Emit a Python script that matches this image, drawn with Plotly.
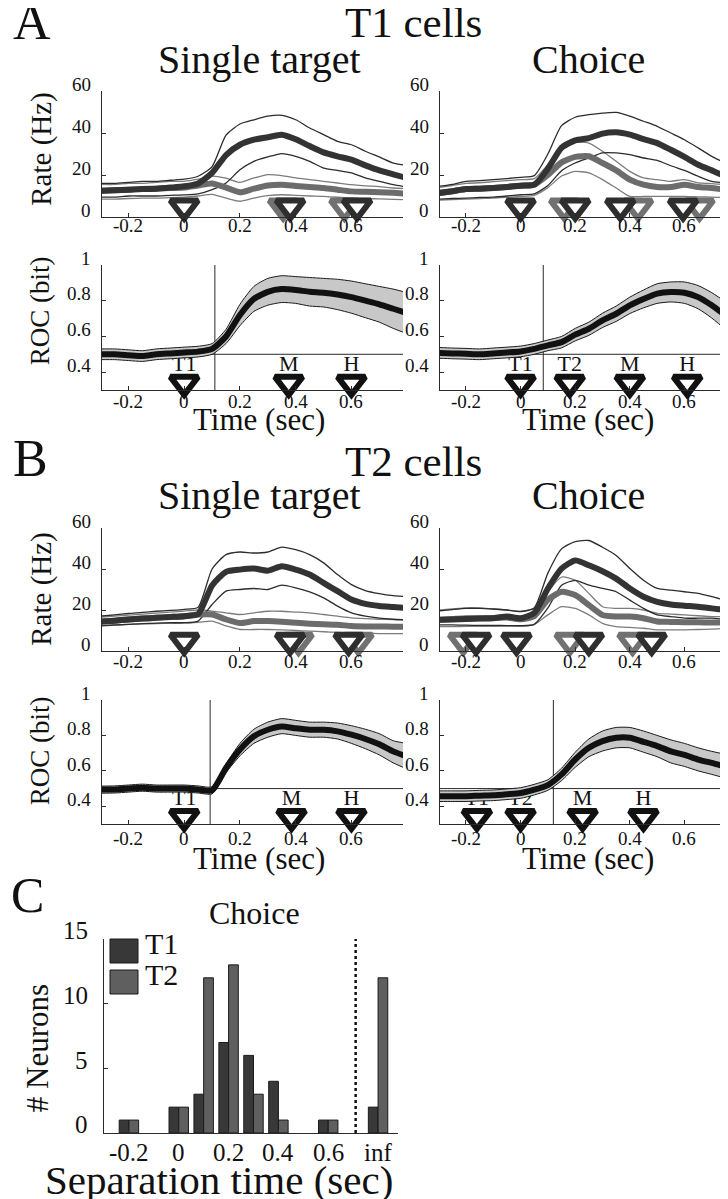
import plotly.graph_objects as go

W, H = 728, 1199
FONT = "Liberation Serif, Times New Roman, serif"
TXT = "#111111"
AX = "#2a2a2a"

# ---------------- data ----------------
t = [-0.30, -0.25, -0.20, -0.15, -0.10, -0.05, 0.00, 0.05, 0.10, 0.15, 0.20, 0.25,
     0.30, 0.35, 0.40, 0.45, 0.50, 0.55, 0.60, 0.65, 0.70, 0.75, 0.80]

# A, T1 cells, single target (rate, Hz)
A_st_dark = [12.5, 12.7, 13.0, 13.3, 13.5, 14.0, 14.6, 16.0, 21.0, 29.5, 34.4, 36.8, 38.0, 39.2, 37.0, 33.8, 30.8, 28.9, 27.3, 24.6, 22.2, 20.3, 18.5]
A_st_dark_hi = [16.0, 16.0, 16.5, 17.0, 17.0, 17.5, 18.0, 19.4, 24.0, 39.0, 44.3, 46.3, 48.0, 48.4, 46.3, 42.4, 39.2, 36.0, 34.4, 31.3, 28.6, 25.7, 24.5]
A_st_dark_lo = [9.5, 9.5, 10.0, 10.0, 10.0, 10.3, 10.5, 11.0, 13.0, 16.2, 22.5, 26.5, 28.6, 30.2, 28.9, 26.5, 23.3, 22.2, 21.0, 18.6, 17.0, 15.4, 14.3]
A_st_gray = [12.5, 12.7, 13.0, 13.3, 13.5, 13.8, 14.0, 15.0, 16.0, 14.0, 11.8, 13.5, 15.0, 15.4, 14.8, 14.3, 13.8, 13.0, 12.2, 12.0, 11.8, 11.5, 11.0]
A_st_gray_hi = [15.5, 15.5, 16.0, 16.0, 16.5, 17.0, 17.0, 18.0, 19.5, 18.5, 16.5, 18.6, 20.2, 19.7, 18.6, 17.8, 17.0, 16.2, 15.4, 14.8, 14.5, 13.8, 13.5]
A_st_gray_lo = [8.5, 8.5, 8.8, 9.0, 9.0, 9.2, 9.5, 10.0, 10.8, 9.0, 7.5, 9.0, 10.2, 10.6, 10.3, 10.0, 9.8, 9.4, 9.0, 8.8, 8.6, 8.4, 8.2]

# A, T1 cells, choice
A_ch_dark = [11.4, 12.3, 13.3, 13.5, 13.8, 14.3, 14.9, 15.4, 23.0, 33.0, 36.5, 37.6, 39.7, 40.3, 39.2, 37.1, 35.2, 32.0, 28.6, 24.9, 22.2, 19.4, 17.5]
A_ch_dark_hi = [14.6, 15.5, 17.0, 17.3, 17.8, 18.3, 18.9, 19.7, 30.0, 43.5, 47.5, 48.7, 49.5, 49.8, 48.0, 45.6, 43.2, 40.0, 36.8, 32.9, 28.9, 25.7, 23.5]
A_ch_dark_lo = [8.5, 8.8, 9.0, 9.3, 9.5, 10.0, 10.6, 11.0, 15.0, 22.0, 25.7, 28.1, 30.5, 30.5, 29.7, 28.1, 27.0, 24.4, 22.2, 19.4, 17.0, 16.2, 15.0]
A_ch_gray = [11.4, 12.3, 13.3, 13.5, 13.8, 14.3, 14.9, 15.4, 20.0, 26.0, 28.6, 28.9, 25.7, 22.2, 17.8, 15.4, 14.3, 14.3, 15.4, 14.3, 13.8, 13.0, 12.5]
A_ch_gray_hi = [14.0, 15.0, 16.0, 16.3, 16.8, 17.3, 17.8, 18.3, 25.0, 33.0, 35.6, 35.2, 31.3, 26.5, 21.7, 18.6, 17.8, 17.0, 17.8, 16.2, 15.9, 15.4, 15.2]
A_ch_gray_lo = [8.0, 8.3, 8.5, 8.8, 9.0, 9.4, 9.8, 10.3, 14.0, 19.5, 21.7, 21.0, 17.8, 13.8, 9.8, 9.8, 9.8, 9.8, 9.8, 9.6, 9.5, 9.2, 9.0]

# B, T2 cells, single target
B_st_dark = [14.3, 14.8, 15.4, 15.8, 16.2, 16.6, 17.0, 18.0, 32.0, 38.6, 39.7, 40.2, 39.2, 41.3, 39.7, 37.3, 33.2, 29.2, 25.1, 23.0, 22.0, 21.5, 21.0]
B_st_dark_hi = [17.0, 17.6, 18.3, 18.8, 19.4, 19.8, 20.3, 21.4, 40.0, 47.0, 48.3, 47.8, 48.3, 50.7, 49.4, 47.0, 43.0, 37.3, 32.4, 29.5, 28.0, 27.0, 26.5]
B_st_dark_lo = [12.2, 12.6, 13.0, 13.4, 13.6, 13.8, 13.8, 14.6, 22.7, 29.2, 30.0, 30.5, 30.0, 32.1, 30.8, 28.8, 25.9, 21.9, 18.6, 17.0, 16.0, 15.5, 15.3]
B_st_gray = [14.3, 14.8, 15.4, 15.8, 16.2, 16.6, 17.0, 17.8, 17.8, 15.4, 13.6, 14.6, 14.6, 14.3, 13.8, 13.3, 13.0, 12.8, 12.2, 12.0, 12.0, 11.8, 11.8]
B_st_gray_hi = [16.5, 17.0, 17.5, 18.0, 18.5, 19.0, 19.5, 20.0, 19.5, 18.6, 17.8, 18.6, 19.4, 19.4, 19.0, 18.6, 17.8, 17.0, 16.2, 15.8, 15.5, 15.3, 15.0]
B_st_gray_lo = [12.5, 12.8, 13.0, 13.2, 13.4, 13.5, 13.6, 14.0, 14.6, 12.2, 10.5, 10.5, 10.5, 10.3, 10.0, 9.7, 9.4, 9.1, 8.9, 8.7, 8.5, 8.5, 8.4]

# B, T2 cells, choice
B_ch_dark = [15.2, 15.4, 15.6, 15.8, 16.0, 16.8, 16.0, 18.5, 30.5, 40.2, 44.2, 41.8, 38.9, 35.3, 30.5, 26.5, 24.0, 22.7, 22.1, 21.6, 20.8, 20.0, 19.3]
B_ch_dark_hi = [19.5, 20.2, 20.8, 20.8, 20.5, 20.0, 19.2, 21.0, 38.0, 49.8, 53.4, 53.9, 50.6, 46.6, 40.2, 34.5, 30.5, 29.7, 28.9, 28.1, 26.5, 24.8, 24.5]
B_ch_dark_lo = [12.7, 12.7, 12.6, 12.5, 12.5, 12.4, 12.4, 13.0, 21.0, 32.1, 34.5, 32.1, 30.5, 28.9, 24.8, 20.8, 17.6, 16.8, 16.0, 16.0, 16.0, 15.5, 15.2]
B_ch_gray = [15.2, 15.6, 16.0, 16.0, 16.1, 16.3, 15.5, 17.0, 25.0, 28.9, 27.3, 22.4, 17.6, 16.8, 16.8, 16.0, 14.4, 14.2, 14.0, 14.0, 13.9, 13.9, 13.9]
B_ch_gray_hi = [20.0, 20.5, 21.0, 21.0, 20.5, 20.0, 19.5, 21.0, 28.9, 36.1, 34.5, 28.1, 21.6, 20.8, 20.8, 20.0, 18.4, 18.0, 17.6, 17.2, 16.8, 16.8, 16.8]
B_ch_gray_lo = [11.9, 11.9, 12.0, 12.0, 12.0, 12.2, 12.0, 13.0, 17.6, 21.6, 20.8, 17.6, 13.5, 11.9, 11.5, 11.1, 10.3, 10.3, 10.3, 10.5, 10.7, 11.0, 11.1]

# ROC (bit): mean and band
A_st_roc = [0.50, 0.50, 0.495, 0.49, 0.50, 0.505, 0.51, 0.515, 0.53, 0.60, 0.72, 0.81, 0.85, 0.865, 0.86, 0.85, 0.845, 0.835, 0.82, 0.80, 0.78, 0.755, 0.73]
A_st_roc_hi = [0.53, 0.53, 0.525, 0.52, 0.53, 0.535, 0.54, 0.545, 0.56, 0.64, 0.78, 0.88, 0.925, 0.94, 0.935, 0.93, 0.925, 0.92, 0.91, 0.895, 0.88, 0.865, 0.845]
A_st_roc_lo = [0.47, 0.47, 0.465, 0.46, 0.47, 0.475, 0.48, 0.485, 0.50, 0.56, 0.66, 0.74, 0.775, 0.79, 0.785, 0.77, 0.765, 0.75, 0.73, 0.705, 0.68, 0.645, 0.615]

A_ch_roc = [0.508, 0.505, 0.503, 0.50, 0.505, 0.51, 0.516, 0.53, 0.55, 0.568, 0.61, 0.643, 0.69, 0.727, 0.774, 0.81, 0.84, 0.849, 0.845, 0.82, 0.774, 0.718, 0.67]
A_ch_roc_hi = [0.538, 0.535, 0.533, 0.53, 0.535, 0.54, 0.546, 0.56, 0.58, 0.60, 0.645, 0.68, 0.73, 0.77, 0.82, 0.86, 0.895, 0.905, 0.905, 0.885, 0.845, 0.795, 0.755]
A_ch_roc_lo = [0.478, 0.475, 0.473, 0.47, 0.475, 0.48, 0.486, 0.50, 0.52, 0.536, 0.575, 0.606, 0.65, 0.684, 0.728, 0.76, 0.785, 0.793, 0.785, 0.755, 0.703, 0.64, 0.585]

B_st_roc = [0.494, 0.495, 0.50, 0.505, 0.50, 0.50, 0.50, 0.495, 0.49, 0.616, 0.72, 0.795, 0.832, 0.85, 0.84, 0.832, 0.832, 0.823, 0.804, 0.78, 0.75, 0.71, 0.68]
B_st_roc_hi = [0.514, 0.515, 0.52, 0.525, 0.52, 0.52, 0.52, 0.515, 0.51, 0.64, 0.755, 0.835, 0.875, 0.895, 0.885, 0.875, 0.875, 0.87, 0.855, 0.835, 0.81, 0.77, 0.755]
B_st_roc_lo = [0.474, 0.475, 0.48, 0.485, 0.48, 0.48, 0.48, 0.475, 0.47, 0.59, 0.685, 0.755, 0.79, 0.81, 0.80, 0.79, 0.79, 0.78, 0.755, 0.725, 0.69, 0.645, 0.61]

B_ch_roc = [0.457, 0.457, 0.457, 0.46, 0.462, 0.468, 0.475, 0.494, 0.52, 0.58, 0.664, 0.73, 0.768, 0.787, 0.787, 0.764, 0.74, 0.71, 0.69, 0.664, 0.645, 0.626, 0.626]
B_ch_roc_hi = [0.487, 0.487, 0.487, 0.49, 0.492, 0.498, 0.505, 0.524, 0.55, 0.615, 0.705, 0.78, 0.825, 0.845, 0.845, 0.825, 0.80, 0.775, 0.755, 0.73, 0.71, 0.695, 0.695]
B_ch_roc_lo = [0.427, 0.427, 0.427, 0.43, 0.432, 0.438, 0.445, 0.464, 0.49, 0.545, 0.62, 0.68, 0.712, 0.73, 0.73, 0.705, 0.68, 0.645, 0.625, 0.60, 0.58, 0.56, 0.555]

# event times (triangles)
A_st_ev_dark = [0.0, 0.38, 0.62]
A_st_ev_gray = [0.355, 0.575]
A_ch_ev_dark = [0.0, 0.20, 0.365, 0.595]
A_ch_ev_gray = [0.16, 0.43, 0.655]
B_st_ev_dark = [0.0, 0.38, 0.59]
B_st_ev_gray = [0.41, 0.625]
B_ch_ev_dark = [-0.163, -0.015, 0.25, 0.48]
B_ch_ev_gray = [-0.21, 0.18, 0.41]

A_st_roc_ev = [0.0, 0.375, 0.60]
A_st_roc_lab = ["T1", "M", "H"]
A_ch_roc_ev = [0.0, 0.18, 0.40, 0.61]
A_ch_roc_lab = ["T1", "T2", "M", "H"]
B_st_roc_ev = [0.0, 0.385, 0.60]
B_st_roc_lab = ["T1", "M", "H"]
B_ch_roc_ev = [-0.16, 0.0, 0.227, 0.45]
B_ch_roc_lab = ["T1", "T2", "M", "H"]

# separation times (vertical lines) and chance level
A_st_sep, A_ch_sep, B_st_sep, B_ch_sep = 0.11, 0.083, 0.093, 0.12
CHANCE = 0.5

# C: histogram of separation times (choice)
sep_bins = [-0.2, 0.0, 0.1, 0.2, 0.3, 0.4, 0.6, 0.8]
T1_counts = [1, 2, 3, 7, 6, 4, 1, 2]
T2_counts = [1, 2, 12, 13, 3, 1, 1, 12]
series_names = ["T1", "T2"]
hist_tickvals = [-0.2, 0.0, 0.2, 0.4, 0.6, 0.8]
hist_ticktext = ["-0.2", "0", "0.2", "0.4", "0.6", "inf"]
count_tickvals = [0, 5, 10, 15]
INF_SPLIT = 0.71

time_tickvals = [-0.2, 0.0, 0.2, 0.4, 0.6]
time_ticktext = ["-0.2", "0", "0.2", "0.4", "0.6"]
rate_tickvals = [0, 20, 40, 60]
roc_tickvals = [0.4, 0.6, 0.8, 1.0]
roc_ticktext = ["0.4", "0.6", "0.8", "1"]

# ---------------- styles ----------------
DARK = "#333333"
GRAY = "#6c6c6c"
DARK_THIN = "#2c2c2c"
GRAY_THIN = "#7c7c7c"
TRI_DARK = "#2e2e2e"
TRI_GRAY = "#717171"
BAND = "#c8c8c8"
BAR1 = "#383838"
BAR2 = "#5f5f5f"
TRI_SIZE = 24
TRI_W = 6
TRI_Y_RATE = 5.0
TRI_Y_ROC = 0.34
SHIFT = 0.25  # annotation box centre sits this many em above the visual centre of capitals
SMALL_EXTRA = 2  # extra lift for small tick-label text


def px_x(p):
    return p / W


def px_y(p):
    return 1 - p / H


fig = go.Figure()
annotations = []
shapes = []


def ax_names(n):
    return ("x", "y") if n == 1 else (f"x{n}", f"y{n}")


def line(n, y, color, width):
    xa, ya = ax_names(n)
    fig.add_trace(go.Scatter(x=t, y=y, mode="lines", xaxis=xa, yaxis=ya,
                             line=dict(color=color, width=width, shape="spline", smoothing=0.6),
                             showlegend=False, hoverinfo="skip"))


def triangles(n, ev, color, ypos):
    xa, ya = ax_names(n)
    fig.add_trace(go.Scatter(x=ev, y=[ypos] * len(ev), mode="markers", xaxis=xa, yaxis=ya,
                             marker=dict(symbol="triangle-down", size=TRI_SIZE, color="white",
                                         line=dict(color=color, width=TRI_W)),
                             cliponaxis=False, showlegend=False, hoverinfo="skip"))


def add_rate(n, dm, dh, dl, gm, gh, gl, ev_d, ev_g):
    line(n, gh, GRAY_THIN, 1.3)
    line(n, gl, GRAY_THIN, 1.3)
    line(n, dh, DARK_THIN, 1.3)
    line(n, dl, DARK_THIN, 1.3)
    line(n, gm, GRAY, 6)
    line(n, dm, DARK, 6)
    triangles(n, ev_g, TRI_GRAY, TRI_Y_RATE)
    triangles(n, ev_d, TRI_DARK, TRI_Y_RATE)


def add_roc(n, m, hi, lo, ev, lab, sep):
    xa, ya = ax_names(n)
    fig.add_trace(go.Scatter(x=ev, y=[0.437] * len(ev), mode="text", text=lab, xaxis=xa, yaxis=ya,
                             textfont=dict(family=FONT, size=22, color=TXT),
                             textposition="middle center", cliponaxis=False,
                             showlegend=False, hoverinfo="skip"))
    fig.add_trace(go.Scatter(x=t, y=lo, mode="lines", xaxis=xa, yaxis=ya,
                             line=dict(color="#1a1a1a", width=1, shape="spline", smoothing=0.6),
                             showlegend=False, hoverinfo="skip"))
    fig.add_trace(go.Scatter(x=t, y=hi, mode="lines", xaxis=xa, yaxis=ya, fill="tonexty",
                             fillcolor=BAND,
                             line=dict(color="#1a1a1a", width=1, shape="spline", smoothing=0.6),
                             showlegend=False, hoverinfo="skip"))
    fig.add_trace(go.Scatter(x=t, y=m, mode="lines", xaxis=xa, yaxis=ya,
                             line=dict(color="#111111", width=6, shape="spline", smoothing=0.6),
                             showlegend=False, hoverinfo="skip"))
    triangles(n, ev, "#111111", TRI_Y_ROC)
    shapes.append(dict(type="line", xref=f"{xa} domain", yref=ya, x0=0, x1=1, y0=CHANCE, y1=CHANCE,
                       line=dict(color=AX, width=1), layer="below"))
    shapes.append(dict(type="line", xref=xa, yref=f"{ya} domain", x0=sep, x1=sep, y0=0, y1=1,
                       line=dict(color=AX, width=1), layer="below"))


def tick_labels(n, xvals, xtext, yvals, ytext, size, down, gap):
    """Tick labels drawn as annotations tied to the axes' data values."""
    xa, ya = ax_names(n)
    lift = SHIFT * size + SMALL_EXTRA
    for v, s in zip(xvals, xtext):
        annotations.append(dict(text=s, x=v, xref=xa, y=0, yref=f"{ya} domain", showarrow=False,
                                xanchor="center", yanchor="middle", yshift=-down + lift,
                                font=dict(family=FONT, size=size, color=TXT)))
    for v, s in zip(yvals, ytext):
        annotations.append(dict(text=s, x=0, xref=f"{xa} domain", y=v, yref=ya, showarrow=False,
                                xanchor="right", yanchor="middle", xshift=-gap, yshift=lift,
                                font=dict(family=FONT, size=size, color=TXT)))


add_rate(1, A_st_dark, A_st_dark_hi, A_st_dark_lo, A_st_gray, A_st_gray_hi, A_st_gray_lo, A_st_ev_dark, A_st_ev_gray)
add_rate(2, A_ch_dark, A_ch_dark_hi, A_ch_dark_lo, A_ch_gray, A_ch_gray_hi, A_ch_gray_lo, A_ch_ev_dark, A_ch_ev_gray)
add_roc(3, A_st_roc, A_st_roc_hi, A_st_roc_lo, A_st_roc_ev, A_st_roc_lab, A_st_sep)
add_roc(4, A_ch_roc, A_ch_roc_hi, A_ch_roc_lo, A_ch_roc_ev, A_ch_roc_lab, A_ch_sep)
add_rate(5, B_st_dark, B_st_dark_hi, B_st_dark_lo, B_st_gray, B_st_gray_hi, B_st_gray_lo, B_st_ev_dark, B_st_ev_gray)
add_rate(6, B_ch_dark, B_ch_dark_hi, B_ch_dark_lo, B_ch_gray, B_ch_gray_hi, B_ch_gray_lo, B_ch_ev_dark, B_ch_ev_gray)
add_roc(7, B_st_roc, B_st_roc_hi, B_st_roc_lo, B_st_roc_ev, B_st_roc_lab, B_st_sep)
add_roc(8, B_ch_roc, B_ch_roc_hi, B_ch_roc_lo, B_ch_roc_ev, B_ch_roc_lab, B_ch_sep)

# histogram
for name, counts, col in zip(series_names, [T1_counts, T2_counts], [BAR1, BAR2]):
    fig.add_trace(go.Bar(x=sep_bins, y=counts, name=name, xaxis="x9", yaxis="y9",
                         marker=dict(color=col, line=dict(color="#1a1a1a", width=1)),
                         showlegend=False, hoverinfo="skip"))
shapes.append(dict(type="line", xref="x9", yref="y9 domain", x0=INF_SPLIT, x1=INF_SPLIT, y0=0, y1=1,
                   line=dict(color="#111111", width=2.5, dash="dot")))

# manual legend (large boxes as in the original)
leg_rows = [(931, 955), (962, 986)]
for (top, bot), name, col in zip(leg_rows, series_names, [BAR1, BAR2]):
    shapes.append(dict(type="rect", xref="paper", yref="paper", x0=px_x(102), x1=px_x(130),
                       y0=px_y(bot), y1=px_y(top), fillcolor=col, line=dict(color="#1a1a1a", width=1)))

# ---------------- layout ----------------
LEFT = (94, 395)
RIGHT = (432, 727)
A_RATE = (83, 209)
A_ROC = (257, 382)
B_RATE = (520, 643)
B_ROC = (692, 816)
XR = [-0.295, 0.785]

# (axis number, x pixels, y pixels, kind, tick label drop below axis)
panels = [
    (1, LEFT, A_RATE, "rate", 15), (2, RIGHT, A_RATE, "rate", 15),
    (3, LEFT, A_ROC, "roc", 18), (4, RIGHT, A_ROC, "roc", 18),
    (5, LEFT, B_RATE, "rate", 17), (6, RIGHT, B_RATE, "rate", 17),
    (7, LEFT, B_ROC, "roc", 21), (8, RIGHT, B_ROC, "roc", 21),
]


def base_axis():
    return dict(showline=True, linecolor=AX, linewidth=1, ticks="inside", ticklen=4,
                tickcolor=AX, tickwidth=1, showgrid=False, zeroline=False, mirror=False,
                showticklabels=False, fixedrange=True)


layout = dict(
    width=W, height=H, template="none", paper_bgcolor="white", plot_bgcolor="rgba(0,0,0,0)",
    margin=dict(l=0, r=0, t=0, b=0), showlegend=False, hovermode=False,
    barmode="group", bargap=0.22, bargroupgap=0.0,
)

for n, (x0, x1), (ytop, ybot), kind, down in panels:
    xk = "xaxis" if n == 1 else f"xaxis{n}"
    yk = "yaxis" if n == 1 else f"yaxis{n}"
    xa, ya = ax_names(n)
    xd = base_axis()
    xd.update(domain=[px_x(x0), px_x(x1)], anchor=ya, range=XR, tickmode="array",
              tickvals=time_tickvals)
    yd = base_axis()
    yd.update(domain=[px_y(ybot), px_y(ytop)], anchor=xa)
    if kind == "rate":
        yd.update(range=[0, 60], tickmode="array", tickvals=rate_tickvals)
        tick_labels(n, time_tickvals, time_ticktext, rate_tickvals,
                    [str(v) for v in rate_tickvals], 19, down, 9)
    else:
        yd.update(range=[0.3, 1.0], tickmode="array", tickvals=roc_tickvals)
        tick_labels(n, time_tickvals, time_ticktext, roc_tickvals, roc_ticktext, 19, down, 9)
    layout[xk] = xd
    layout[yk] = yd

xd = base_axis()
xd.update(domain=[px_x(96), px_x(390)], anchor="y9", range=[-0.3, 0.88], tickmode="array",
          tickvals=hist_tickvals)
yd = base_axis()
yd.update(domain=[px_y(1125), px_y(931)], anchor="x9", range=[0, 15], tickmode="array",
          tickvals=count_tickvals)
layout["xaxis9"] = xd
layout["yaxis9"] = yd
tick_labels(9, hist_tickvals, hist_ticktext, count_tickvals, [str(v) for v in count_tickvals], 25, 28, 14)


def ann(text, x, y, size, angle=0, xanchor="center"):
    if angle == 0:
        y = y - SHIFT * size
    else:
        x = x - SHIFT * size
    return dict(text=text, x=px_x(x), y=px_y(y), xref="paper", yref="paper", showarrow=False,
                xanchor=xanchor, yanchor="middle", textangle=angle,
                font=dict(family=FONT, size=size, color=TXT))


annotations += [
    ann("A", 24, 27, 52), ann("T1 cells", 405, 25, 43),
    ann("Single target", 251, 61, 40), ann("Choice", 580, 61, 40),
    ann("Rate (Hz)", 40, 141, 29, -90), ann("ROC (bit)", 39, 303, 27, -90),
    ann("Time (sec)", 251, 419, 31), ann("Time (sec)", 580, 419, 31),
    ann("B", 22, 463, 52), ann("T2 cells", 405, 464, 43),
    ann("Single target", 251, 498, 40), ann("Choice", 580, 498, 40),
    ann("Rate (Hz)", 40, 581, 29, -90), ann("ROC (bit)", 39, 743, 27, -90),
    ann("Time (sec)", 251, 858, 31), ann("Time (sec)", 580, 858, 31),
    ann("C", 19, 899, 50), ann("Choice", 246, 913, 32),
    ann("# Neurons", 37, 1040, 31, -90), ann("Separation time (sec)", 211, 1182, 41),
]
for (top, bot), name in zip(leg_rows, series_names):
    annotations.append(ann(name, 135, (top + bot) / 2, 30, 0, "left"))

layout["annotations"] = annotations
layout["shapes"] = shapes
fig.update_layout(**layout)

fig.write_html("out.html")
